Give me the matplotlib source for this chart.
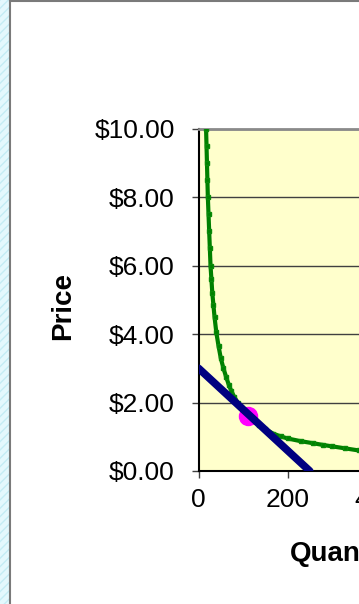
"""Demand curve with a budget line touching it at one point"""

import matplotlib
matplotlib.use("Agg")
import matplotlib.pyplot as plt
from matplotlib.patches import Rectangle
from matplotlib.lines import Line2D

plt.rcParams['font.family'] = ['Liberation Sans', 'DejaVu Sans']

# demand curve (quantity, price)
curve_q = [17, 18, 19, 20, 21, 22.5, 24, 25.5, 27, 29, 31, 33.5, 36, 40, 45, 50, 56, 62, 68, 74, 80,
           88, 95, 104, 112, 124, 135, 150, 168, 185, 200, 230, 258, 280, 300, 330, 360, 400, 450, 520, 600]
curve_p = [10.0, 9.5, 9.0, 8.5, 8.0, 7.5, 7.0, 6.5, 6.0, 5.6, 5.2, 4.85, 4.5, 4.05, 3.65, 3.3, 3.0, 2.75,
           2.52, 2.33, 2.17, 2.0, 1.86, 1.72, 1.6, 1.46, 1.35, 1.22, 1.09, 1.01, 0.95, 0.87, 0.81, 0.76,
           0.72, 0.66, 0.60, 0.55, 0.49, 0.43, 0.37]

# straight line from the price axis to the quantity axis
line_q = [0, 250]
line_p = [3.0, 0.0]

# the point where they meet
point_q = [112]
point_p = [1.6]

y_ticks = [0, 2, 4, 6, 8, 10]
x_ticks = [0, 200, 400, 600]

fig = plt.figure(figsize=(3.59, 6.04), dpi=100)
fig.patch.set_facecolor('white')

# light hatched strip and frame lines on the left / top
fig.add_artist(Rectangle((0, 0), 9.5 / 359, 1, transform=fig.transFigure,
                         facecolor='#E4F8FD', edgecolor='#C4ECF4', hatch='////', lw=0))
fig.add_artist(Line2D([10 / 359, 10 / 359], [0, 1], transform=fig.transFigure,
                      color='#7A7A7A', lw=1.5))
fig.add_artist(Line2D([10 / 359, 1], [1 - 0.8 / 604, 1 - 0.8 / 604], transform=fig.transFigure,
                      color='#7A7A7A', lw=1.5))

ax = fig.add_axes([198.5 / 359, 133 / 604, 267 / 359, 342.5 / 604])
ax.set_facecolor('#FFFFCC')

ax.plot(curve_q, curve_p, color='#008000', lw=3.0, marker='s', ms=2.6, mec='#0A8A0A', zorder=3)
ax.plot(point_q, point_p, 'o', color='#FF00FF', ms=13, zorder=4)
ax.plot(line_q, line_p, color='#000080', lw=5.5, solid_capstyle='round', zorder=5)

ax.set_xlim(0, 600)
ax.set_ylim(0, 10)
ax.set_xticks(x_ticks)
ax.set_yticks(y_ticks)
ax.set_yticklabels(['${:.2f}'.format(v) for v in y_ticks])
ax.tick_params(axis='y', length=5, width=1, color='#404040', pad=12.2, labelsize=19)
ax.tick_params(axis='x', length=5, width=1, color='#404040', pad=7, labelsize=19)

ax.grid(True, axis='y', color='#404040', lw=1)
ax.set_axisbelow(True)

ax.spines['top'].set_color('#8A8A8A')
ax.spines['top'].set_linewidth(2)
ax.spines['right'].set_visible(False)
ax.spines['left'].set_color('black')
ax.spines['left'].set_linewidth(1.5)
ax.spines['bottom'].set_color('black')
ax.spines['bottom'].set_linewidth(1.5)

ax.set_ylabel('Price', fontsize=20, fontweight='bold')
ax.yaxis.set_label_coords(-135 / 267, (471 - 306) / 342.5)
ax.yaxis.label.set_va('center')

ax.set_xlabel('Quantity', fontsize=20, fontweight='bold')
ax.xaxis.set_label_coords(0.5 + 14 / 267, -83 / 342.5)
ax.xaxis.label.set_va('center')

fig.savefig('out.png', dpi=100)
